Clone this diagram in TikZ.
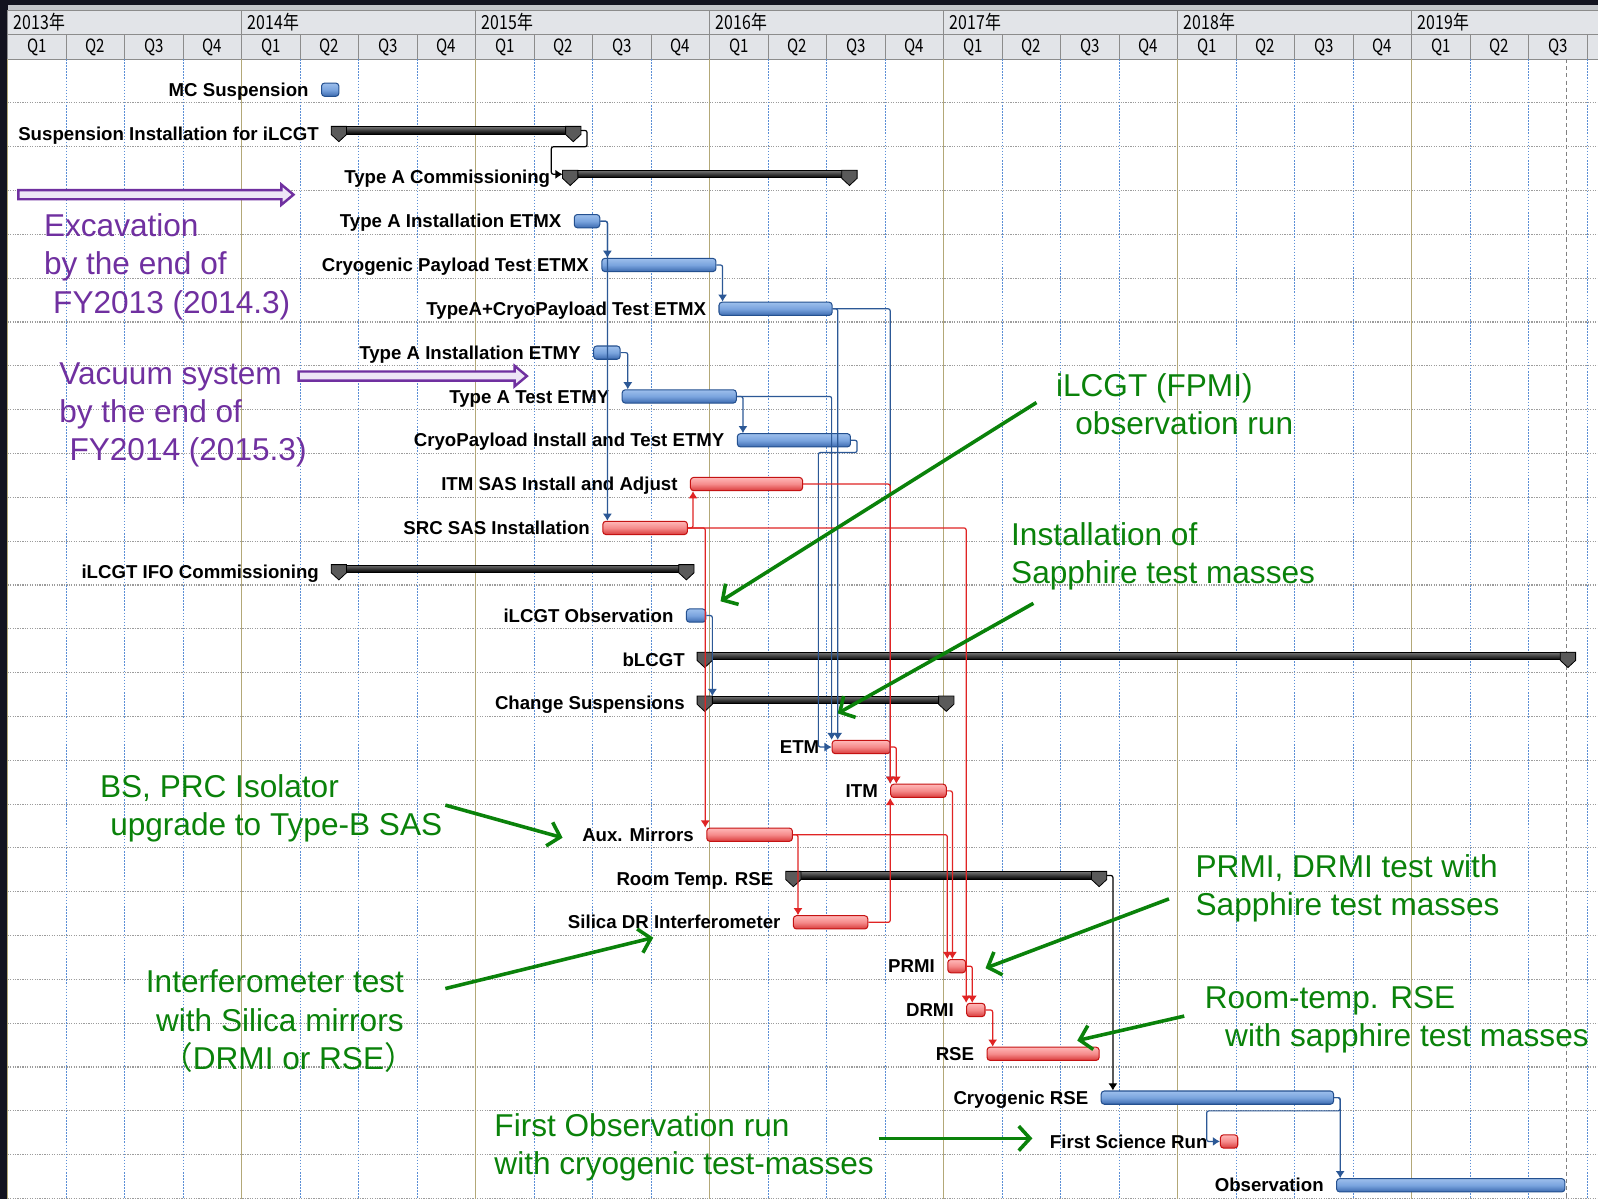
\documentclass[tikz,border=0pt]{standalone}
\usepackage{fontspec}
\setmainfont{Liberation Sans}
\newfontfamily\cjk{Noto Sans CJK JP}
\usetikzlibrary{shapes,arrows.meta,positioning}
\definecolor{darkbg}{HTML}{13131F}
\definecolor{hdrfill}{HTML}{E2E4E8}
\definecolor{hdrtop}{HTML}{C4C6CA}
\definecolor{hdrline}{HTML}{8C8C8C}
\definecolor{yearline}{HTML}{B3A878}
\definecolor{quarterline}{HTML}{5A8ED6}
\definecolor{rowline}{HTML}{9C9C9C}
\definecolor{bluetop}{HTML}{9DBFEC}
\definecolor{bluemid}{HTML}{7AA4DE}
\definecolor{bluebot}{HTML}{3C6AAF}
\definecolor{blueedge}{HTML}{24508F}
\definecolor{redtop}{HTML}{FFB8B8}
\definecolor{redmid}{HTML}{F58A8A}
\definecolor{redbot}{HTML}{D93A3A}
\definecolor{rededge}{HTML}{C41212}
\definecolor{sumtop}{HTML}{707070}
\definecolor{capgray}{HTML}{5A5A5A}
\definecolor{linkblue}{HTML}{2C5896}
\definecolor{linkred}{HTML}{E02424}
\definecolor{notegreen}{HTML}{0A820A}
\definecolor{notepurple}{HTML}{7030A0}
\definecolor{purplefill}{HTML}{EEE6F6}
\newcommand*{\ind}[1]{\hspace*{#1pt}}

\begin{document}
\begin{tikzpicture}[x=1pt, y=-1pt, node distance=12pt,
    bar_blue/.style ={rectangle, anchor=west, inner sep=0pt, minimum height=13pt,
      rounded corners=3pt, draw=blueedge, line width=1pt,
      top color=bluetop, bottom color=bluebot, middle color=bluemid},
    bar_red/.style ={bar_blue, draw=rededge,
      top color=redtop, bottom color=redbot, middle color=redmid},
    bar_sum/.style ={rectangle, anchor=west, inner sep=0pt, minimum height=7pt,
      draw=black, line width=1pt, top color=sumtop, bottom color=black},
    sum_cap/.style ={draw=black, line width=0.8pt, fill=capgray},
    task_label/.style ={inner sep=0pt, text height=14pt, text depth=1pt,
      font=\bfseries\fontsize{18.3}{18}\selectfont},
    note_green/.style ={anchor=north west, inner sep=0pt, align=left,
      text=notegreen, font=\fontsize{31}{37.5}\selectfont},
    note_purple/.style ={note_green, text=notepurple},
    note_arrow/.style ={draw=notegreen, line width=3.5pt,
      -{Straight Barb[length=11pt,width=24pt]}},
    arrow_purple/.style ={draw=notepurple, line width=2.4pt, fill=purplefill},
    link_blue/.style ={draw=linkblue, line width=1.2pt, rounded corners=2pt,
      -{Latex[length=7pt,width=9pt]}},
    link_red/.style ={link_blue, draw=linkred},
    link_black/.style ={link_blue, draw=black},
    year_line/.style ={draw=yearline, line width=1.5pt},
    quarter_line/.style ={draw=quarterline, line width=0.9pt, dash pattern=on 1.5pt off 1.5pt},
    row_line/.style ={draw=rowline, line width=1.1pt, dash pattern=on 1.2pt off 1.2pt},
    hdr_line/.style ={draw=hdrline, line width=1.2pt},
    year_label/.style ={anchor=west, inner sep=0pt, font=\cjk\fontsize{19}{19}\selectfont},
    q_label/.style ={inner sep=0pt, font=\cjk\fontsize{18}{18}\selectfont}]
    \useasboundingbox (0,0) rectangle (1568,1176);
    % background and header
    \fill[darkbg] (0,0) rectangle (1568,1176);
    \fill[white] (7.5,58) rectangle (1568,1176);
    \fill[hdrtop] (7.5,5) rectangle (1568,10);
    \fill[hdrfill] (7.5,10) rectangle (1568,58);
    \draw[hdr_line] (7.5,10) -- (1568,10) (7.5,34) -- (1568,34) (7.5,58) -- (1568,58);
    \foreach \yr [count=\i from 0] in {2013,...,2019} {
      \draw[hdr_line] ({7.5+229.6*\i},10) -- ({7.5+229.6*\i},34);
      \node[year_label] (yr\yr) at ({13.5+229.6*\i},22) {\scalebox{0.82}[1]{\yr{}年}};
    }
    \foreach \t in {0,...,27} {
      \draw[hdr_line] ({7.5+57.4*\t},34) -- ({7.5+57.4*\t},58);
    }
    \foreach \t in {0,...,26} {
      \pgfmathtruncatemacro\qn{mod(\t,4)+1}
      \node[q_label] (q\t) at ({7.5+57.4*(\t+0.5)},46.5) {\scalebox{0.82}[1]{Q\qn}};
    }
    % grid of the chart
    \foreach \k in {1,...,26} {
      \draw[row_line] (7.5,{58+43*\k}) -- (1568,{58+43*\k});
    }
    \foreach \t in {0,...,27} {
      \pgfmathtruncatemacro\m{mod(\t,4)}
      \ifnum\m=0
        \draw[year_line] ({7.5+57.4*\t},58) -- ({7.5+57.4*\t},1176);
      \else
        \draw[quarter_line] ({7.5+57.4*\t},58) -- ({7.5+57.4*\t},1176);
      \fi
    }
    \draw[draw=gray, line width=1pt, dash pattern=on 4pt off 3pt] (1537,58) -- (1537,1176);

    % row 1
    \node[bar_blue, minimum width=17pt] (mcsus) at (315,88) {};
    \node[task_label, left=of mcsus] (mcsus_lbl) {MC Suspension};
    % row 2
    \node[bar_sum, minimum width=244pt] (suspinst) at (325,128) {};
    \node[task_label, left=of suspinst, yshift=-3pt] (suspinst_lbl) {Suspension Installation for iLCGT};
    % row 3
    \node[bar_sum, minimum width=288pt] (typeacomm) at (552,171) {};
    \node[task_label, left=of typeacomm, yshift=-3pt] (typeacomm_lbl) {Type A Commissioning};
    % row 4
    \node[bar_blue, minimum width=25pt] (instx) at (563,217) {};
    \node[task_label, left=of instx] (instx_lbl) {Type A Installation ETMX};
    % row 5
    \node[bar_blue, minimum width=112pt] (cryox) at (590,260) {};
    \node[task_label, left=of cryox] (cryox_lbl) {Cryogenic Payload Test ETMX};
    % row 6
    \node[bar_blue, minimum width=111pt] (typeacryox) at (705,303) {};
    \node[task_label, left=of typeacryox] (typeacryox_lbl) {TypeA+CryoPayload Test ETMX};
    % row 7
    \node[bar_blue, minimum width=26pt] (instay) at (582,346) {};
    \node[task_label, left=of instay] (instay_lbl) {Type A Installation ETMY};
    % row 8
    \node[bar_blue, minimum width=112pt] (testy) at (610,389) {};
    \node[task_label, left=of testy] (testy_lbl) {Type A Test ETMY};
    % row 9
    \node[bar_blue, minimum width=111pt] (cryoy) at (723,432) {};
    \node[task_label, left=of cryoy] (cryoy_lbl) {CryoPayload Install and Test ETMY};
    % row 10
    \node[bar_red, minimum width=110pt] (itmsas) at (677,475) {};
    \node[task_label, left=of itmsas] (itmsas_lbl) {ITM SAS Install and Adjust};
    % row 11
    \node[bar_red, minimum width=83pt] (srcsas) at (591,518) {};
    \node[task_label, left=of srcsas] (srcsas_lbl) {SRC SAS Installation};
    % row 12
    \node[bar_sum, minimum width=355pt] (ifocomm) at (325,558) {};
    \node[task_label, left=of ifocomm, yshift=-3pt] (ifocomm_lbl) {iLCGT IFO Commissioning};
    % row 13
    \node[bar_blue, minimum width=19pt] (obsone) at (673,604) {};
    \node[task_label, left=of obsone] (obsone_lbl) {iLCGT Observation};
    % row 14
    \node[bar_sum, minimum width=861pt] (blcgt) at (684,644) {};
    \node[task_label, left=of blcgt, yshift=-3pt] (blcgt_lbl) {bLCGT};
    % row 15
    \node[bar_sum, minimum width=251pt] (changesus) at (684,687) {};
    \node[task_label, left=of changesus, yshift=-3pt] (changesus_lbl) {Change Suspensions};
    % row 16
    \node[bar_red, minimum width=57pt] (etm) at (816,733) {};
    \node[task_label, left=of etm] (etm_lbl) {ETM};
    % row 17
    \node[bar_red, minimum width=54.5pt] (itm) at (873.5,776) {};
    \node[task_label, left=of itm] (itm_lbl) {ITM};
    % row 18
    \node[bar_red, minimum width=84pt] (aux) at (693,819) {};
    \node[task_label, left=of aux] (aux_lbl) {Aux. Mirrors};
    % row 19
    \node[bar_sum, minimum width=314pt] (roomrse) at (771,859) {};
    \node[task_label, left=of roomrse, yshift=-3pt] (roomrse_lbl) {Room Temp. RSE};
    % row 20
    \node[bar_red, minimum width=73pt] (silica) at (778,905) {};
    \node[task_label, left=of silica] (silica_lbl) {Silica DR Interferometer};
    % row 21
    \node[bar_red, minimum width=17.5pt] (prmi) at (929.5,948) {};
    \node[task_label, left=of prmi] (prmi_lbl) {PRMI};
    % row 22
    \node[bar_red, minimum width=18pt] (drmi) at (948,991) {};
    \node[task_label, left=of drmi] (drmi_lbl) {DRMI};
    % row 23
    \node[bar_red, minimum width=110pt] (rse) at (968,1034) {};
    \node[task_label, left=of rse] (rse_lbl) {RSE};
    % row 24
    \node[bar_blue, minimum width=228pt] (cryorse) at (1080,1077) {};
    \node[task_label, left=of cryorse] (cryorse_lbl) {Cryogenic RSE};
    % row 25
    \node[bar_red, minimum width=17pt] (fsr) at (1197,1120) {};
    \node[task_label, left=of fsr] (fsr_lbl) {First Science Run};
    % row 26
    \node[bar_blue, minimum width=224pt] (obs) at (1311,1163) {};
    \node[task_label, left=of obs] (obs_lbl) {Observation};

    % end caps of the summary bars
    \foreach \n in {suspinst, typeacomm, ifocomm, blcgt, changesus, roomrse} {
      \draw[sum_cap] (\n.north west) -- ++(15,0) -- ++(0,8) -- ++(-7.5,7) -- ++(-7.5,-7) -- cycle;
      \draw[sum_cap] (\n.north east) -- ++(-15,0) -- ++(0,8) -- ++(7.5,7) -- ++(7.5,-7) -- cycle;
    }

    % connecting bars with links
    \begin{scope}[every path/.style=link_blue]
      \path (instx.east) -| ([xshift=6]cryox.north west);
      \path (instx.east) -| ([xshift=5]srcsas.north west);
      \path (cryox.east) -| ([xshift=4]typeacryox.north west);
      \path (instay.east) -| ([xshift=6]testy.north west);
      \path (testy.east) -| ([xshift=6]cryoy.north west);
      \path (testy.east) -| (etm.north west);
      \path (typeacryox.east) -| ([xshift=6]etm.north west);
      \path (typeacryox.east) -| (itm.north west);
      \path (cryoy.east) -| ++(6,12) -| ([xshift=-13]etm.west) -- (etm.west);
      \path (obsone.east) -| ([xshift=15]changesus.north west);
      \path (cryorse.east) -| ++(6,13) -| ([xshift=-13]fsr.west) -- (fsr.west);
      \path (cryorse.east) -| ([xshift=4]obs.north west);
    \end{scope}
    \begin{scope}[every path/.style=link_red]
      \path (srcsas.east) -| ([xshift=3]itmsas.south west);
      \path (srcsas.east) -| ([xshift=-1]aux.north west);
      \path (srcsas.east) -| (drmi.north west);
      \path (itmsas.east) -| (itm.north west);
      \path (etm.east) -| ([xshift=6]itm.north west);
      \path (aux.east) -| ([xshift=5]silica.north west);
      \path (aux.east) -| (prmi.north west);
      \path (silica.east) -| (itm.south west);
      \path (itm.east) -| ([xshift=5]prmi.north west);
      \path (prmi.east) -| ([xshift=6]drmi.north west);
      \path (drmi.east) -| ([xshift=6]rse.north west);
    \end{scope}
    \begin{scope}[every path/.style=link_black]
      \path (suspinst.east) -| ++(6,16) -| ([xshift=-11]typeacomm.west) -- (typeacomm.west);
      \path (roomrse.east) -| ([xshift=12]cryorse.north west);
    \end{scope}

    % notes
    \draw[arrow_purple] (18,186.5) -- (276,186.5) -- (276,181) -- (288,191) -- (276,201)
      -- (276,195.5) -- (18,195.5) -- cycle;
    \draw[arrow_purple] (293,364.5) -- (505,364.5) -- (505,359) -- (517,369) -- (505,379)
      -- (505,373.5) -- (293,373.5) -- cycle;
    \node[note_purple] (excav) at (43,205.75) {\strut Excavation\\by the end of\\\ind{9}FY2013 (2014.3)};
    \node[note_purple] (vacuum) at (58,350.75) {\strut Vacuum system\\by the end of\\\ind{10}FY2014 (2015.3)};
    \node[note_green] (fpmi) at (1036,362.75) {\strut iLCGT (FPMI)\\\ind{19}observation run};
    \node[note_green] (sapph) at (992,508.75) {\strut Installation of\\Sapphire test masses};
    \node[note_green] (bsprc) at (98,755.75) {\strut BS, PRC Isolator\\\ind{10}upgrade to Type-B SAS};
    \node[note_green] (prmitest) at (1173,834.75) {\strut PRMI, DRMI test with\\Sapphire test masses};
    \node[note_green] (silicatest) at (143,947.75) {\strut Interferometer test\\\ind{10}with Silica mirrors\\\ind{15}{\cjk （}DRMI or RSE{\cjk ）}};
    \node[note_green] (roomtest) at (1182,962.75) {\strut Room-temp. RSE\\\ind{20}with sapphire test masses};
    \node[note_green] (firstobs) at (485,1088.75) {\strut First Observation run\\with cryogenic test-masses};
    \coordinate (fpmi_tail) at (1017,395);     \coordinate (fpmi_head) at (707,590);
    \coordinate (sapph_tail) at (1014,592);    \coordinate (sapph_head) at (822,700);
    \coordinate (bsprc_tail) at (437,790);     \coordinate (bsprc_head) at (552,822);
    \coordinate (prmitest_tail) at (1147,882); \coordinate (prmitest_head) at (967,950);
    \coordinate (silica_tail) at (437,970);    \coordinate (silica_head) at (641,920);
    \coordinate (room_tail) at (1162,997);     \coordinate (room_head) at (1057,1021);
    \coordinate (firstobs_tail) at (862,1117); \coordinate (firstobs_head) at (1013,1117);
    \begin{scope}[every path/.style=note_arrow]
      \path (fpmi_tail) -- (fpmi_head);
      \path (sapph_tail) -- (sapph_head);
      \path (bsprc_tail) -- (bsprc_head);
      \path (prmitest_tail) -- (prmitest_head);
      \path (silica_tail) -- (silica_head);
      \path (room_tail) -- (room_head);
      \path (firstobs_tail) -- (firstobs_head);
    \end{scope}
\end{tikzpicture}
\end{document}
